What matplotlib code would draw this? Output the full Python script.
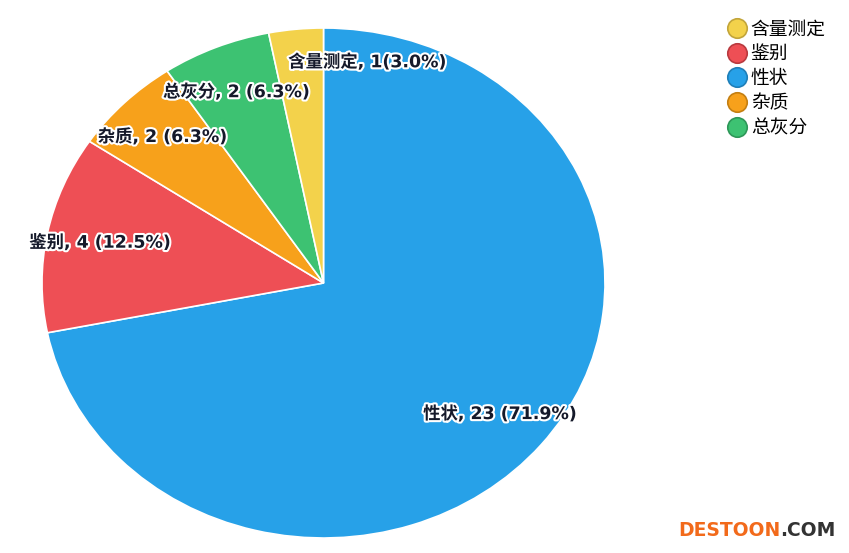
import numpy as np
import matplotlib.pyplot as plt
import matplotlib.patheffects as pe
from matplotlib.lines import Line2D

plt.rcParams['font.family'] = ['Noto Sans CJK SC', 'DejaVu Sans']

# slices in clockwise order from 12 o'clock
names = ['性状', '鉴别', '杂质', '总灰分', '含量测定']
counts = [23, 4, 2, 2, 1]
pct_text = ['23 (71.9%)', '4 (12.5%)', '2 (6.3%)', '2 (6.3%)', '1(3.0%)']
colors = ['#27A1E8', '#EE4F55', '#F7A11B', '#3DC272', '#F3D24B']
edge_colors = ['#1F7FB8', '#B93A3F', '#C47F12', '#2E9758', '#C2A53A']

legend_order = ['含量测定', '鉴别', '性状', '杂质', '总灰分']

fig = plt.figure(figsize=(8.49, 5.53), dpi=100)
ax = fig.add_axes([42 / 849, 15 / 553, 563 / 849, 510 / 553])

wedges, _ = ax.pie(counts, colors=colors, startangle=90, counterclock=False,
                   wedgeprops=dict(edgecolor='white', linewidth=1.2))
ax.set_aspect('auto')
ax.set_xlim(-1, 1)
ax.set_ylim(-1, 1)
ax.axis('off')

halo = [pe.withStroke(linewidth=3, foreground='white')]
for i, w in enumerate(wedges):
    mid = np.deg2rad((w.theta1 + w.theta2) / 2)
    r, ha, dx = 0.81, 'center', 0.0
    if names[i] == '含量测定':
        r, ha, dx = 0.87, 'left', -0.04
    ax.text(r * np.cos(mid) + dx, r * np.sin(mid), names[i] + ', ' + pct_text[i],
            ha=ha, va='center', fontsize=12.5, fontweight='bold',
            family=['DejaVu Sans', 'Noto Sans CJK SC'],
            color='#15192a', path_effects=halo)

handles = []
for n in legend_order:
    k = names.index(n)
    handles.append(Line2D([], [], linestyle='none', marker='o', markersize=14,
                          markerfacecolor=colors[k], markeredgecolor=edge_colors[k],
                          markeredgewidth=1.2))
fig.legend(handles, legend_order, loc='upper left', bbox_to_anchor=(718 / 849, 1 - 9 / 553),
           frameon=False, fontsize=13.5, handlelength=1.0, handletextpad=0.25,
           labelspacing=0.2, borderpad=0)

# watermark
t1 = fig.text(678 / 849, 23 / 553, 'DESTOON', color='#F26A1B', fontsize=13.5,
              fontweight='bold', family='DejaVu Sans', va='center', ha='left')
fig.canvas.draw()
bb = t1.get_window_extent()
fig.text(bb.x1 / fig.bbox.width, 23 / 553, '.COM', color='#333333', fontsize=13.5,
         fontweight='bold', family='DejaVu Sans', va='center', ha='left')

fig.savefig('out.png', dpi=100)
